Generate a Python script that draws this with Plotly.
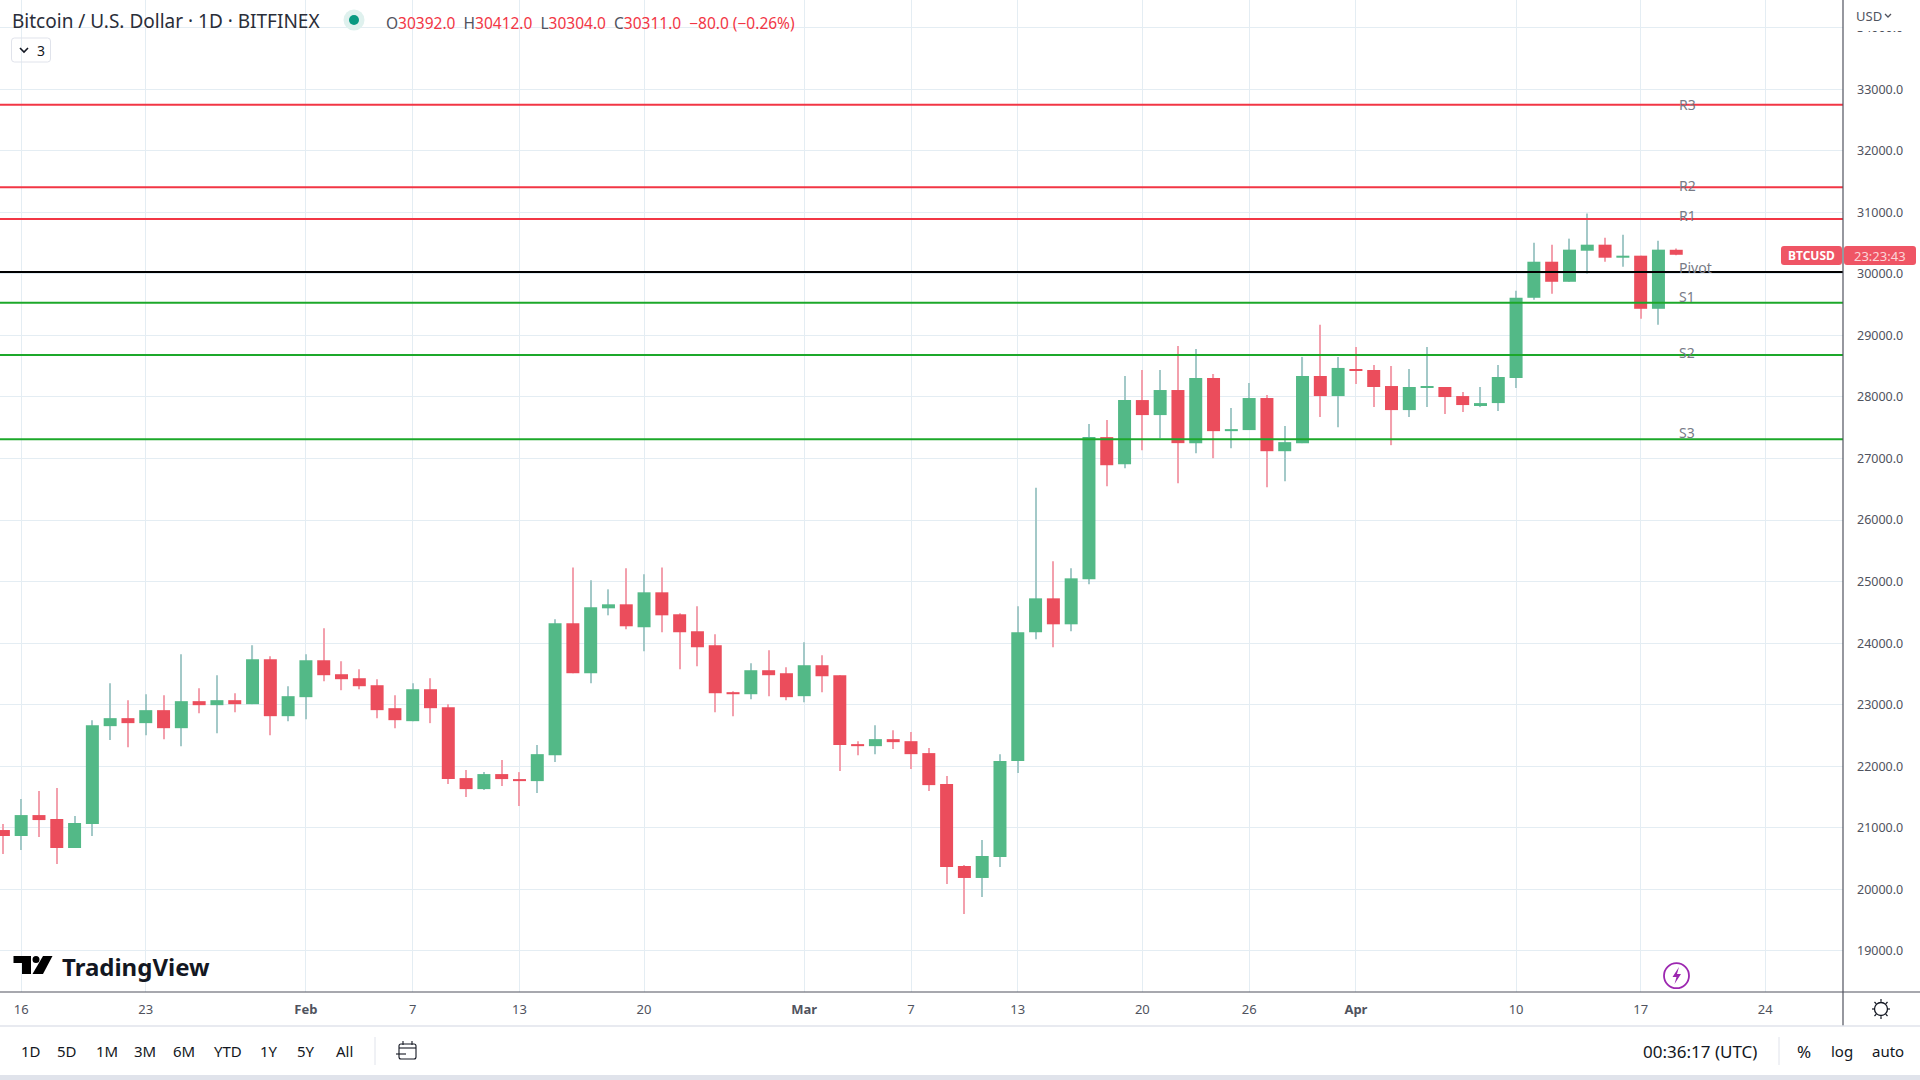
import pandas as pd
import plotly.graph_objects as go

W, H = 1920, 1080
PLOT_W, PLOT_H = 1843, 992
PX_PER_DAY = 17.8
DAY_MS = 86400000

dates = pd.date_range("2023-01-15", "2023-04-19", freq="D").strftime("%Y-%m-%d").tolist()

opens = [20963,20866,21206,21142,20671,21060,22651,22781,22700,22911,22618,23057,22992,23073,23008,23738,22813,
         23122,23722,23495,23430,23316,22943,22732,23251,22959,21807,21628,21872,21791,21758,22180,24323,23511,24566,24631,24258,24826,24469,24193,23966,23203,23170,23560,23511,
         23138,23641,23479,22359,22326,22440,22407,22213,21710,20379,20184,20525,22083,24177,24728,24306,25037,27348,26908,27950,27706,28113,27250,28309,27445,27462,27983,27119,27250,28341,28015,
         28455,28439,28178,27787,28146,28162,28015,27869,27901,28309,29612,30198,29872,30377,30475,30263,30296,29433,30392]
highs = [21060,21466,21596,21645,21190,22748,23349,23073,23170,23154,23819,23268,23479,23186,23966,23787,23300,
         23819,24241,23706,23576,23414,23154,23349,23430,23008,21937,21904,22099,21904,22343,24388,25231,25020,24874,25215,25118,25231,24485,24599,24144,23219,23673,23884,23608,
         24014,23803,23479,22407,22667,22586,22554,22294,21839,20395,20801,22196,24599,26525,25329,25215,27559,27624,28341,28439,28439,28830,28781,28374,27820,28227,28032,27527,28651,29172,28651,
         28814,28520,28504,28455,28814,28162,28081,28162,28520,29726,30508,30475,30573,30980,30589,30638,30296,30540,30412]
lows = [20573,20638,20849,20411,20671,20866,22424,22310,22505,22440,22326,22862,22537,22878,23008,22505,22732,
        22765,23381,23235,23251,22781,22618,22732,22700,21710,21499,21612,21677,21353,21563,22067,23511,23349,24452,24225,23868,24177,23576,23625,22878,22813,23089,23138,23073,
        23040,23203,21921,22180,22196,22278,21953,21596,20087,19600,19876,20362,21888,24063,23933,24193,24956,26549,26843,27136,27331,26598,27087,27005,27168,27462,26533,26631,27250,27673,27510,
        28211,27836,27217,27673,27836,27722,27755,27836,27771,28146,29579,29677,29872,30003,30198,30117,29270,29172,30304]
closes = [20866,21206,21125,20671,21077,22667,22781,22700,22911,22618,23057,22992,23073,23008,23738,22813,23138,
          23722,23479,23414,23300,22911,22748,23251,22943,21791,21628,21872,21791,21758,22196,24323,23511,24582,24631,24274,24826,24452,24177,23933,23186,23170,23560,23479,23122,
          23641,23462,22343,22326,22440,22391,22196,21693,20362,20184,20541,22083,24177,24728,24306,25053,27348,26891,27950,27706,28113,27250,28309,27445,27478,27983,27119,27266,28341,28015,28472,
          28423,28162,27787,28162,28162,27999,27869,27901,28325,29612,30198,29872,30394,30475,30263,30296,29433,30394,30311]

level_names = ["R3", "R2", "R1", "Pivot", "S1", "S2", "S3"]
level_prices = [32750, 31408, 30891, 30030, 29530, 28683, 27315]
level_colors = ["#f23645", "#f23645", "#f23645", "#000000", "#1ca82a", "#1ca82a", "#1ca82a"]
level_label_y = [104.5, 185.5, 215.5, 267, 297, 352.5, 432]

x_tick_dates = ["2023-01-16","2023-01-23","2023-02-01","2023-02-07","2023-02-13","2023-02-20","2023-03-01",
                "2023-03-07","2023-03-13","2023-03-20","2023-03-26","2023-04-01","2023-04-10","2023-04-17","2023-04-24"]
x_tick_labels = ["16","23","<b>Feb</b>","7","13","20","<b>Mar</b>","7","13","20","26","<b>Apr</b>","10","17","24"]
y_ticks = list(range(19000, 34001, 1000))

range_buttons = ["1D","5D","1M","3M","6M","YTD","1Y","5Y","All"]
range_button_x = [30.6,67,106.5,144.5,183.7,227.7,269.4,306,344]

UP, DOWN = "#53b987", "#eb4d5c"
UP_WICK, DOWN_WICK = "#a3c9c8", "#f3a0ad"
GRID = "#e4edf3"
AXIS = "#50535e"
TEXT = "#131722"
FONT = "Noto Sans"

def px(x, y):
    return x / PLOT_W, 1 - y / PLOT_H

def rrect(x0, y0, x1, y1, r):
    pts = [("M", x0 + r, y0), ("L", x1 - r, y0), ("Q", x1, y0, x1, y0 + r), ("L", x1, y1 - r),
           ("Q", x1, y1, x1 - r, y1), ("L", x0 + r, y1), ("Q", x0, y1, x0, y1 - r), ("L", x0, y0 + r),
           ("Q", x0, y0, x0 + r, y0)]
    return poly_cmds(pts) + " Z"

def poly_cmds(cmds):
    out = []
    for c in cmds:
        vals = c[1:]
        coords = []
        for i in range(0, len(vals), 2):
            a, b = px(vals[i], vals[i + 1])
            coords.append(f"{a:.6f},{b:.6f}")
        out.append(c[0] + " ".join(coords))
    return " ".join(out)

def polyline(points, close=False):
    cmds = [("M" if i == 0 else "L", p[0], p[1]) for i, p in enumerate(points)]
    return poly_cmds(cmds) + (" Z" if close else "")

fig = go.Figure()

# wicks and bodies
is_up = [c >= o for o, c in zip(opens, closes)]
fig.add_trace(go.Bar(
    x=dates, y=[h - l for h, l in zip(highs, lows)], base=lows,
    width=1.1 / PX_PER_DAY * DAY_MS,
    marker=dict(color=[UP_WICK if u else DOWN_WICK for u in is_up], line_width=0),
    hoverinfo="skip", showlegend=False))
fig.add_trace(go.Bar(
    x=dates, y=[max(abs(c - o), 30) for o, c in zip(opens, closes)], base=[min(o, c) for o, c in zip(opens, closes)],
    width=13 / PX_PER_DAY * DAY_MS,
    marker=dict(color=[UP if u else DOWN for u in is_up], line_width=0),
    hoverinfo="skip", showlegend=False))

shapes, annos = [], []

def text(x, y, s, size=14, color=TEXT, anchor="left", **kw):
    a, b = px(x, y)
    annos.append(dict(xref="paper", yref="paper", x=a, y=b, text=s, showarrow=False, xanchor=anchor,
                      yanchor="middle", font=dict(family=FONT, size=size, color=color), borderpad=0, **kw))

def path(d, line=None, lw=1, fill=None, layer="above"):
    shapes.append(dict(type="path", xref="paper", yref="paper", path=d, layer=layer,
                       line=dict(color=line or "rgba(0,0,0,0)", width=lw if line else 0),
                       fillcolor=fill or "rgba(0,0,0,0)"))

def hvline(x0, y0, x1, y1, color, lw=1):
    a0, b0 = px(x0, y0)
    a1, b1 = px(x1, y1)
    shapes.append(dict(type="line", xref="paper", yref="paper", x0=a0, y0=b0, x1=a1, y1=b1,
                       line=dict(color=color, width=lw), layer="above"))

def circle(cx, cy, r, line=None, lw=1, fill=None):
    a0, b0 = px(cx - r, cy + r)
    a1, b1 = px(cx + r, cy - r)
    shapes.append(dict(type="circle", xref="paper", yref="paper", x0=a0, y0=b0, x1=a1, y1=b1, layer="above",
                       line=dict(color=line or "rgba(0,0,0,0)", width=lw if line else 0),
                       fillcolor=fill or "rgba(0,0,0,0)"))

def rect(x0, y0, x1, y1, fill):
    a0, b0 = px(x0, y1)
    a1, b1 = px(x1, y0)
    shapes.append(dict(type="rect", xref="paper", yref="paper", x0=a0, y0=b0, x1=a1, y1=b1,
                       fillcolor=fill, line_width=0, layer="above"))

# pivot levels
for name, price, color, ly in zip(level_names, level_prices, level_colors, level_label_y):
    shapes.append(dict(type="line", xref="paper", x0=0, x1=1, yref="y", y0=price, y1=price,
                       line=dict(color=color, width=2), layer="above"))
    text(1677.5, ly, name, size=14, color="#787b86")

# header
text(11, 21, "Bitcoin / U.S. Dollar · 1D · BITFINEX", size=19, color="#2a2e39")
circle(354, 20, 10.5, fill="#dff1ee")
circle(354, 20, 5, fill="#089981")
R = "#f23645"
G = "#50535e"
ohlc = (f'<span style="color:{G}">O</span>30392.0  <span style="color:{G}">H</span>30412.0  '
        f'<span style="color:{G}">L</span>30304.0  <span style="color:{G}">C</span>30311.0  −80.0 (−0.26%)')
text(385, 22.5, ohlc, size=15.5, color=R)
path(rrect(11.5, 38, 50.5, 62, 3), line="#e0e3eb", lw=1)
path(polyline([(20, 48), (24, 52), (28, 48)]), line=TEXT, lw=1.6)
text(36, 50, "3", size=14, color=TEXT)

# price scale parts: the scale header hides the top of the 34000 label
rect(1844, 0, W, 31, "#ffffff")
text(1855, 15.5, "USD", size=13, color=AXIS)
path(polyline([(1885, 14), (1888, 17), (1891, 14)]), line=AXIS, lw=1.3)

path(rrect(1781, 246, 1842, 265, 3), fill="#ef5565")
path(rrect(1844, 246, 1916, 265, 3), fill="#ef5565")
text(1811.5, 255.5, "<b>BTCUSD</b>", size=12, color="#ffffff", anchor="center")
text(1880, 255.5, "23:23:43", size=13, color="#fbd5d9", anchor="center")

# frames
hvline(PLOT_W, 0, PLOT_W, 1026, AXIS, 1.2)
hvline(0, PLOT_H, W, PLOT_H, AXIS, 1.2)
hvline(0, 1026, W, 1026, "#e0e3eb", 1.5)
rect(0, 1075, W, 1080, "#e0e3eb")

# watermark logo
path(polyline([(13.5, 956), (31, 956), (31, 974), (22, 974), (22, 963), (13.5, 963)], True), fill="#000000")
circle(36, 959.5, 3.5, fill="#000000")
path(polyline([(43, 956), (52.5, 956), (43, 974), (32.5, 974)], True), fill="#000000")
text(61, 966, "<b>TradingView</b>", size=24, color="#131722")

# lightning icon
circle(1676.5, 975.7, 12.5, line="#9c27b0", lw=1.8)
path(polyline([(1679, 967), (1672.5, 977), (1676.5, 977), (1674.5, 984), (1681, 974), (1677, 974)], True), fill="#9c27b0")

# settings icon
circle(1881, 1009, 6.5, line=TEXT, lw=1.3)
for dx, dy in [(0, -10), (0, 10), (-9, 0), (9, 0), (-6.5, -7), (6.5, -7), (-6.5, 7), (6.5, 7)]:
    hvline(1881 + dx * 0.72, 1009 + dy * 0.72, 1881 + dx, 1009 + dy, TEXT, 1.2)

# bottom toolbar
for lab, x in zip(range_buttons, range_button_x):
    text(x, 1051, lab, size=15, color=TEXT, anchor="center")
hvline(375, 1037, 375, 1065, "#e0e3eb", 1)
hvline(1779, 1037, 1779, 1065, "#e0e3eb", 1)
path(rrect(399, 1044, 416, 1059, 2), line=TEXT, lw=1.1)
hvline(399, 1048, 416, 1048, TEXT, 1.1)
hvline(403, 1041, 403, 1045, TEXT, 1.1)
hvline(412, 1041, 412, 1045, TEXT, 1.1)
path(polyline([(396, 1054), (406, 1054)]), line=TEXT, lw=1.1)
text(1700, 1051, "00:36:17 (UTC)", size=17, color=TEXT, anchor="center")
text(1803.7, 1051, "%", size=17, color=TEXT, anchor="center")
text(1841.6, 1051, "log", size=15, color=TEXT, anchor="center")
text(1888, 1051, "auto", size=15, color=TEXT, anchor="center")

fig.update_layout(
    width=W, height=H, margin=dict(l=0, r=W - PLOT_W, t=0, b=H - PLOT_H),
    paper_bgcolor="#ffffff", plot_bgcolor="#ffffff", barmode="overlay", showlegend=False,
    font=dict(family=FONT, size=12, color=AXIS), shapes=shapes, annotations=annos,
    xaxis=dict(type="date", range=["2023-01-14 19:26", "2023-04-28 08:53"], tickmode="array",
               tickvals=x_tick_dates, ticktext=x_tick_labels, showgrid=True, gridcolor=GRID, gridwidth=1,
               ticks="", zeroline=False, showline=False, ticklabelstandoff=8,
               tickfont=dict(family=FONT, size=13, color=AXIS), fixedrange=True),
    yaxis=dict(range=[18331, 34451], side="right", tickmode="array", tickvals=y_ticks, tickformat=".1f",
               showgrid=True, gridcolor=GRID, gridwidth=1, ticks="", zeroline=False, showline=False,
               ticklabelstandoff=13, tickfont=dict(family=FONT, size=12.5, color=AXIS), fixedrange=True),
)

fig.write_html("out.html", config=dict(displayModeBar=False),
               post_script="document.body.style.margin='0';document.body.style.overflow='hidden';")
